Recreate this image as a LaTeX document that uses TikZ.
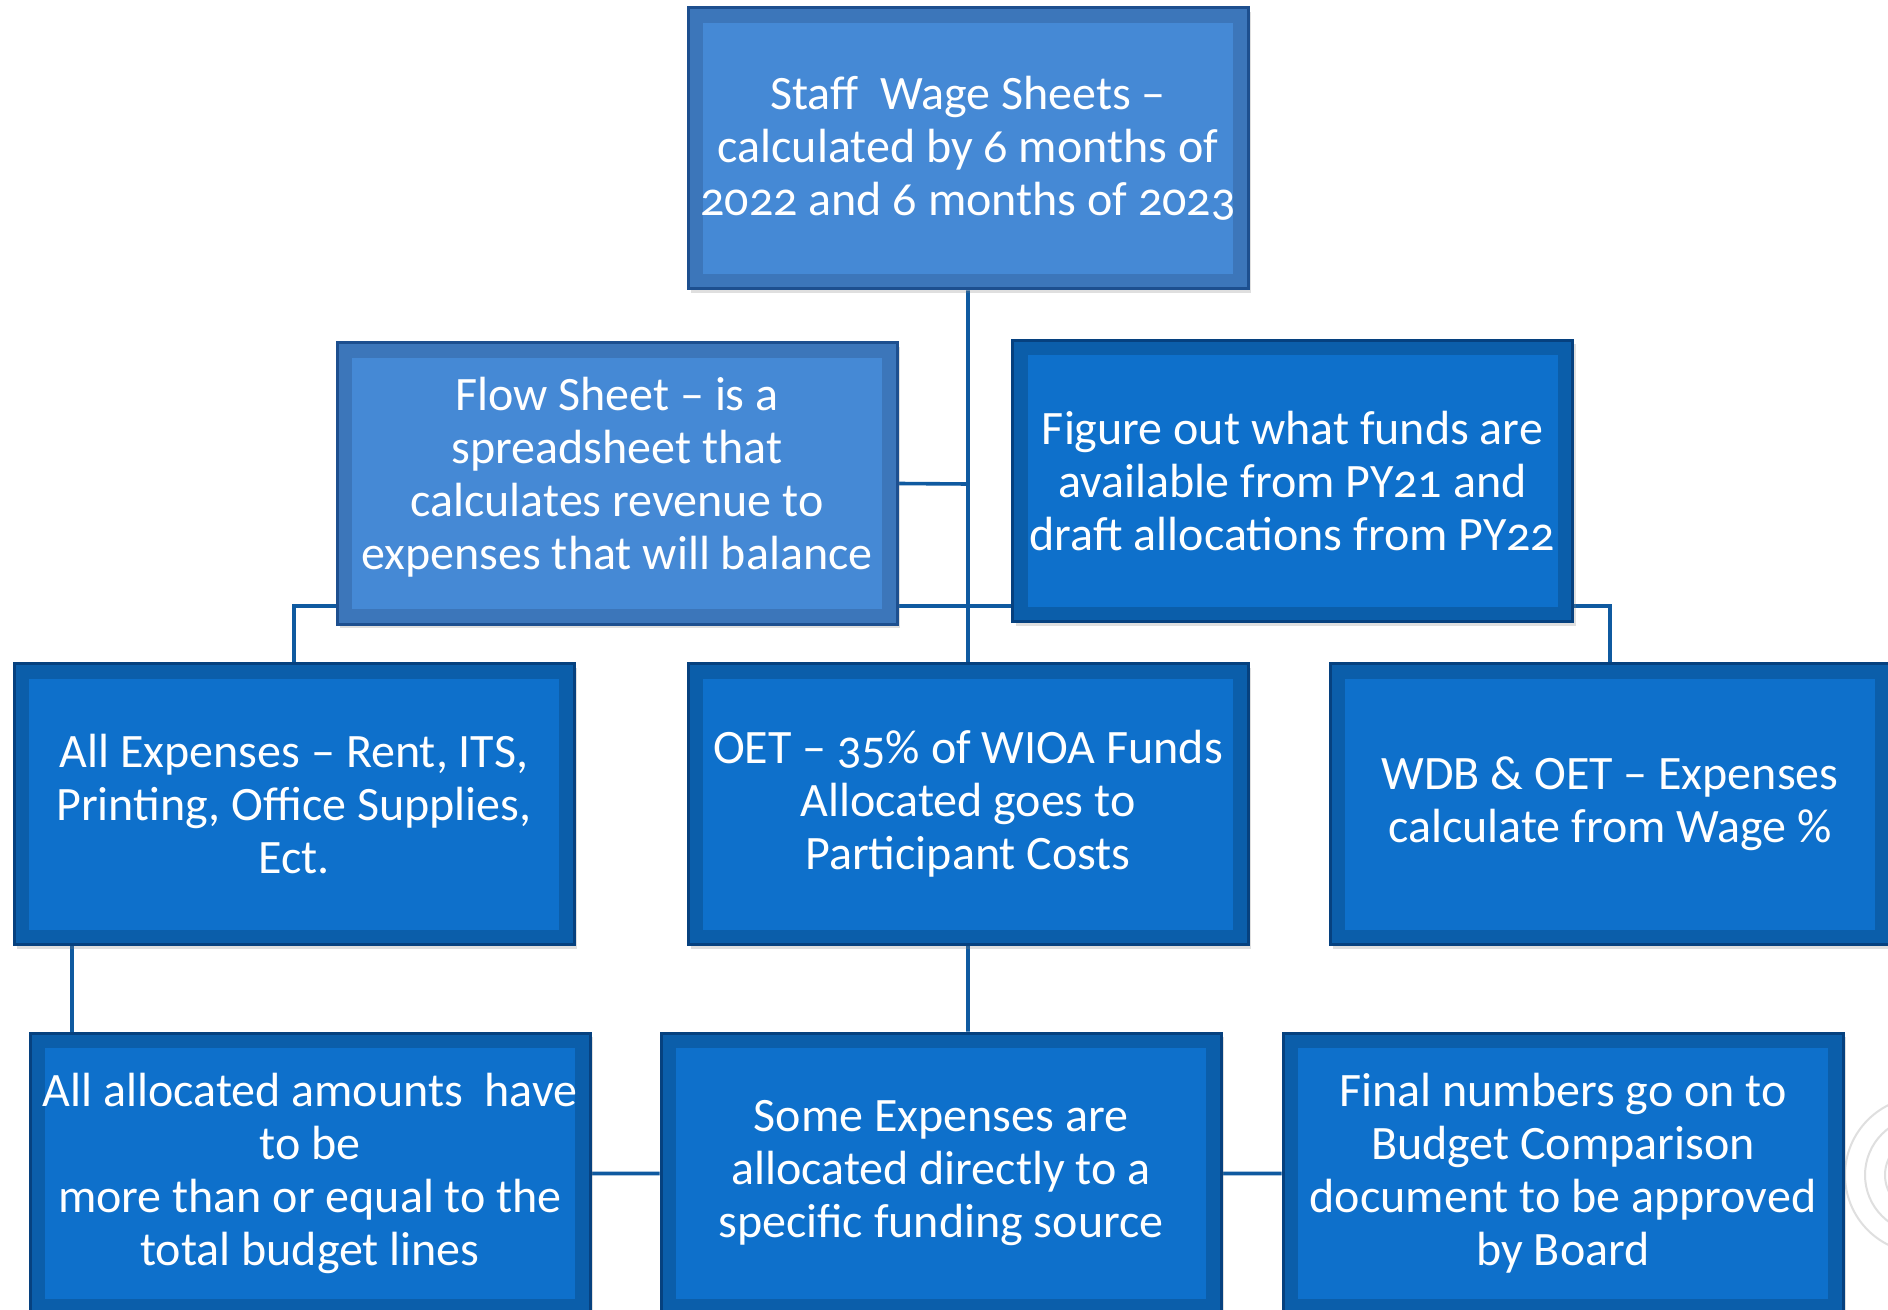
\documentclass[tikz,border=0pt]{standalone}
\usepackage{fontspec}
\setmainfont{Carlito}[Numbers=OldStyle]
\usepackage{tikz}
\usetikzlibrary{shadows,backgrounds}
\usepackage{xcolor}
\definecolor{lightfill}{HTML}{4589D5}
\definecolor{lightband}{HTML}{3C76BA}
\definecolor{lightline}{HTML}{1D4F8F}
\definecolor{darkfill}{HTML}{0E70CB}
\definecolor{darkband}{HTML}{0B5EAA}
\definecolor{darkline}{HTML}{06417F}
\definecolor{wire}{HTML}{0F5AA0}

\begin{document}
\begin{tikzpicture}[x=0.5pt, y=-0.5pt, font=\fontsize{24pt}{26.5pt}\selectfont]
\tikzstyle{sheet}=[rectangle, minimum width=280pt, minimum height=140.5pt,
                   inner sep=2pt, align=center, text=white, line width=1.5pt,
                   drop shadow={shadow xshift=1.5pt, shadow yshift=-2pt, opacity=0.25}]
% bande plus claire autour du texte
\tikzstyle{inner}=[path picture={\fill[#1]
    ([xshift=7.5pt,yshift=-7.5pt]path picture bounding box.north west) rectangle
    ([xshift=-7.5pt,yshift=7.5pt]path picture bounding box.south east);}]
\tikzstyle{lightbox}=[sheet, fill=lightband, draw=lightline, inner=lightfill]
\tikzstyle{darkbox}=[sheet, fill=darkband, draw=darkline, inner=darkfill]
\tikzstyle{wireline}=[draw=wire, line width=1.8pt]

\useasboundingbox (0,0) rectangle (1888,1310);

\node[lightbox] (0) at (968,148.5) {Staff~ Wage Sheets --\\ calculated by 6 months of\\ 2022 and 6 months of 2023};
\node[lightbox] (1) at (617,483.5) {Flow Sheet -- is a\\ spreadsheet that\\ calculates revenue to\\ expenses that will balance\\[-16pt]};
\node[darkbox] (2) at (1292.5,481) {Figure out what funds are\\ available from PY21 and\\ draft allocations from PY22};
\node[darkbox] (3) at (294,804) {All Expenses -- Rent, ITS,\\ Printing, Office Supplies,\\ Ect.};
\node[darkbox] (4) at (968,804) {OET -- 35\% of WIOA Funds\\ Allocated goes to\\ Participant Costs};
\node[darkbox] (5) at (1610,804) {WDB \& OET -- Expenses\\ calculate from Wage \%};
\node[darkbox] (6) at (310,1173.5) {All allocated amounts~ have\\ to be\\ more than or equal to the\\ total budget lines};
\node[darkbox] (7) at (941,1173.5) {Some Expenses are\\ allocated directly to a\\ specific funding source};
\node[darkbox] (8) at (1563,1173.5) {Final numbers go on to\\ Budget Comparison\\ document to be approved\\ by Board};

\coordinate (j1) at (968,484);
\coordinate (j2) at (294,606);
\coordinate (j3) at (1610,606);

\begin{scope}[on background layer]
\fill[white] (0,0) rectangle (1888,1310);
% cercles gris a droite
\foreach \r in {38,58,78}
    \draw[gray!25, line width=1pt] (1923,1175) circle (\r);
\path[wireline]
    (0.south) -- (4.north)
    (1.east) -- (j1)
    (3.north) |- (j2) -- (j3) -- (5.north)
    (72,945) -- (72,1033)
    (4.south) -- (7.north -| 4.south)
    (6.east) -- (7.west)
    (7.east) -- (8.west);
\end{scope}
\end{tikzpicture}
\end{document}
